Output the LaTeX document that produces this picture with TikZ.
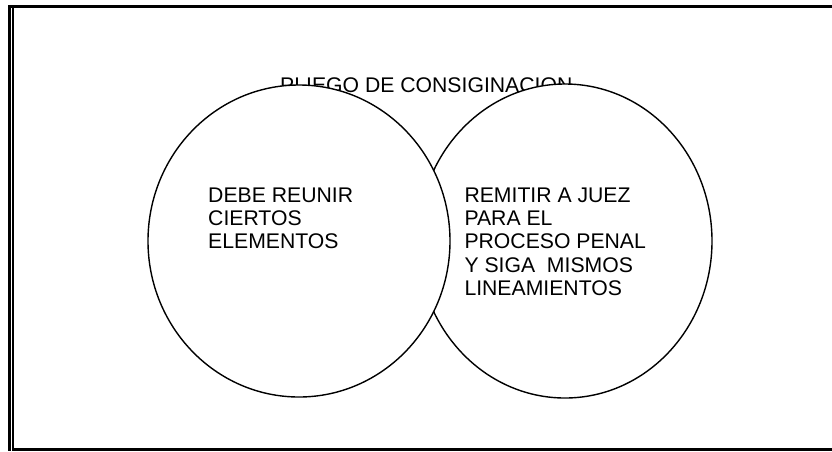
\documentclass[tikz,border=0pt]{standalone}
\usepackage{fontspec}
\setmainfont{Liberation Sans}
\usetikzlibrary{shapes.geometric}
\begin{document}
\begin{tikzpicture}[x=1pt,y=-1pt,
  bubble/.style={ellipse,draw=black,fill=white,line width=1.4pt,inner sep=0pt},
  label/.style={inner sep=0pt,anchor=north west,align=left,font=\fontsize{21.2}{23.3}\selectfont}]
\useasboundingbox (0,0) rectangle (832,451);
% frame
\fill[black] (8,5) rectangle (832,8);
\fill[black] (8,5) rectangle (11,451);
\fill[black] (12,8) rectangle (13.6,451);
\fill[black] (12,448) rectangle (832,450.5);
% title
\node[inner sep=0pt,anchor=base west,font=\fontsize{21.2}{23}\selectfont] (title) at (280,92.5) {PLIEGO DE CONSIGINACION};
% ellipses
\node[bubble,minimum width=294pt,minimum height=314pt] (right) at (565,241) {};
\node[bubble,minimum width=302pt,minimum height=312pt] (left) at (299,241) {};
% texts
\node[label] (ltext) at (208,187.5) {DEBE REUNIR\\CIERTOS\\ELEMENTOS};
\node[label] (rtext) at (464.3,187.5) {REMITIR A JUEZ\\PARA EL\\PROCESO PENAL\\Y SIGA\ \ MISMOS\\LINEAMIENTOS};
\end{tikzpicture}
\end{document}
